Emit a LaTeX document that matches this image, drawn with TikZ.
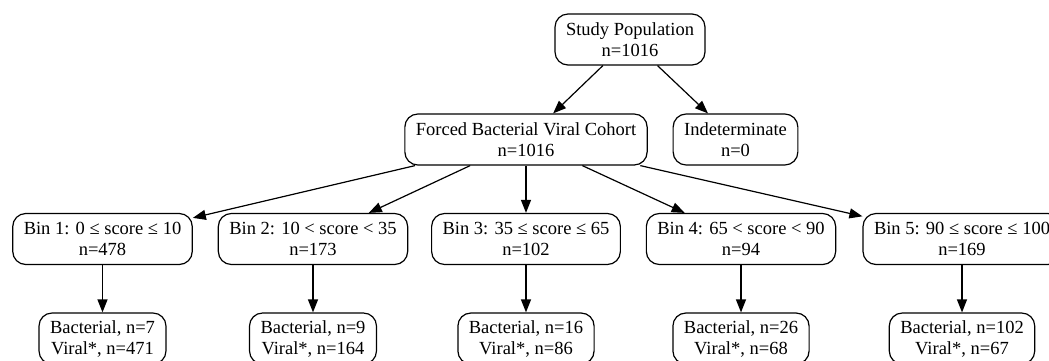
\documentclass[tikz,border=0pt]{standalone}
\usepackage{fontspec}
\setmainfont{Liberation Serif}
\usetikzlibrary{arrows.meta}

\begin{document}
\begin{tikzpicture}[x=1pt, y=-1pt, line width=1.2pt,
  every node/.style={draw, rounded corners=13pt, align=center, inner xsep=11pt, inner ysep=3pt,
    minimum height=51pt, font=\fontsize{18.5}{21}\selectfont},
  edge/.style={-{Triangle[length=13pt,width=10pt]}}]
  \useasboundingbox (0,0) rectangle (1049,360);
  \node (study) at (630, 39.5) {Study Population\\n=1016};
  \node (cohort) at (526, 139.5) {Forced Bacterial Viral Cohort\\n=1016};
  \node (indet) at (735.5, 139.5) {Indeterminate\\n=0};
  \node (bin1) at (102.5, 239) {Bin 1: 0 ≤ score ≤ 10\\n=478};
  \node (bin2) at (313, 239) {Bin 2: 10 < score < 35\\n=173};
  \node (bin3) at (526, 239) {Bin 3: 35 ≤ score ≤ 65\\n=102};
  \node (bin4) at (741, 239) {Bin 4: 65 < score < 90\\n=94};
  \node (bin5) at (962, 239) {Bin 5: 90 ≤ score ≤ 100\\n=169};
  \node (res1) at (102.5, 338.5) {Bacterial, n=7\\Viral*, n=471};
  \node (res2) at (313, 338.5) {Bacterial, n=9\\Viral*, n=164};
  \node (res3) at (526, 338.5) {Bacterial, n=16\\Viral*, n=86};
  \node (res4) at (741, 338.5) {Bacterial, n=26\\Viral*, n=68};
  \node (res5) at (962, 338.5) {Bacterial, n=102\\Viral*, n=67};
  \draw[edge] (study) -- (cohort);
  \draw[edge] (study) -- (indet);
  \draw[edge] (cohort) -- (bin1);
  \draw[edge] (cohort) -- (bin2);
  \draw[edge] (cohort) -- (bin3);
  \draw[edge] (cohort) -- (bin4);
  \draw[edge] (cohort) -- (bin5);
  \draw[edge] (bin1) -- (res1);
  \draw[edge] (bin2) -- (res2);
  \draw[edge] (bin3) -- (res3);
  \draw[edge] (bin4) -- (res4);
  \draw[edge] (bin5) -- (res5);
\end{tikzpicture}
\end{document}
